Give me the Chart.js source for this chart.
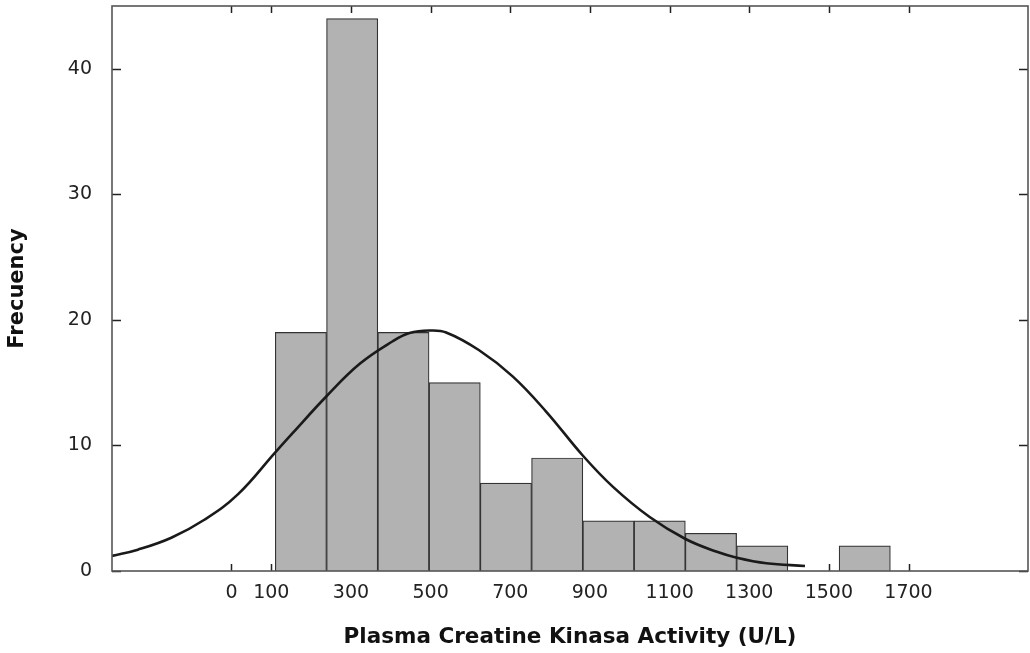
<!DOCTYPE html>
<html>
<head>
<meta charset="utf-8">
<script src="https://cdn.jsdelivr.net/npm/chart.js@4"></script>
<style>
html, body { margin: 0; padding: 0; background: #fff; }
#wrap { width: 1030px; height: 653px; }
</style>
</head>
<body>
<div id="wrap"><canvas id="histogram"></canvas></div>
<script>
// histogram bins (U/L) and counts
const binStart = 110
const binWidth = 128.7
const counts = [19, 44, 19, 15, 7, 9, 4, 4, 3, 2, 0, 2]

// fitted normal curve, traced point by point
const curveX = [-300, -235, -151, -67, 16, 110, 154, 238, 322, 405, 447, 497, 539, 621, 706, 790, 882, 958, 1050, 1140, 1217, 1269, 1343, 1440]
const curveY = [1.2, 1.7, 2.65, 4.1, 6.1, 9.45, 11.0, 13.9, 16.5, 18.3, 18.95, 19.15, 19.0, 17.6, 15.5, 12.7, 9.2, 6.7, 4.3, 2.55, 1.55, 1.06, 0.62, 0.4]

const xTicks = [0, 100, 300, 500, 700, 900, 1100, 1300, 1500, 1700]
const yTicks = [0, 10, 20, 30, 40]

Chart.defaults.font.family = "'DejaVu Sans', 'Liberation Sans', sans-serif"
Chart.defaults.color = '#222'

// tick marks pointing inward on all four sides, plus the frame
const innerTicks = {
    id: 'innerTicks',
    beforeDatasetsDraw(chart) {
        const {ctx, chartArea: a, scales: {x, y}} = chart
        ctx.save()
        ctx.strokeStyle = '#222'
        ctx.lineWidth = 1.5
        ctx.beginPath()
        xTicks.forEach(v => {
            const px = Math.round(x.getPixelForValue(v)) + 0.5
            ctx.moveTo(px, a.bottom); ctx.lineTo(px, a.bottom - 7)
            ctx.moveTo(px, a.top); ctx.lineTo(px, a.top + 7)
        })
        yTicks.forEach(v => {
            const py = Math.round(y.getPixelForValue(v)) + 0.5
            ctx.moveTo(a.left, py); ctx.lineTo(a.left + 9, py)
            ctx.moveTo(a.right, py); ctx.lineTo(a.right - 9, py)
        })
        ctx.stroke()
        ctx.restore()
    },
    afterDatasetsDraw(chart) {
        const {ctx, chartArea: a} = chart
        ctx.save()
        ctx.strokeStyle = '#555'
        ctx.lineWidth = 1.6
        ctx.strokeRect(a.left, a.top, a.right - a.left, a.bottom - a.top)
        ctx.restore()
    }
}

const data = {
    datasets: [{
        type: 'line',
        data: curveX.map((v, i) => ({x: v, y: curveY[i]})),
        borderColor: '#1a1a1a',
        borderWidth: 2.6,
        pointRadius: 0,
        tension: 0.4,
        order: 0
    },
    {
        type: 'bar',
        data: counts.map((c, i) => ({x: binStart + (i + 0.5) * binWidth, y: c})),
        backgroundColor: '#b2b2b2',
        borderColor: '#333',
        borderWidth: 1.2,
        barThickness: 'flex',
        barPercentage: 1,
        categoryPercentage: 1,
        order: 1
    }]
}

const options = {
    animation: false,
    responsive: true,
    maintainAspectRatio: false,
    layout: { padding: { top: 6, right: 2, left: 0, bottom: 0 } },
    plugins: {
        legend: { display: false },
        tooltip: { enabled: false }
    },
    scales: {
        x: {
            type: 'linear',
            min: -300,
            max: 2000,
            offset: false,
            grid: { display: false, drawTicks: false },
            border: { display: false },
            afterBuildTicks: s => { s.ticks = xTicks.map(v => ({value: v})) },
            afterFit: s => {
                s.height = 82
                s.paddingLeft = 0
                s.paddingRight = 0
            },
            ticks: {
                font: { size: 19 },
                color: '#222',
                padding: 11,
                maxRotation: 0,
                autoSkip: false,
                callback: v => String(v)
            },
            title: {
                display: true,
                text: 'Plasma Creatine Kinasa Activity (U/L)',
                font: { size: 21.5, weight: 'bold' },
                color: '#111',
                padding: { top: 0, bottom: 3 }
            }
        },
        y: {
            min: 0,
            max: 45,
            grid: { display: false, drawTicks: false },
            border: { display: false },
            afterBuildTicks: s => { s.ticks = yTicks.map(v => ({value: v})) },
            afterFit: s => {
                s.width = 112
                s.paddingTop = 0
                s.paddingBottom = 0
            },
            ticks: {
                font: { size: 19 },
                color: '#222',
                padding: 20,
                callback: v => String(v)
            },
            title: {
                display: true,
                text: 'Frecuency',
                font: { size: 21, weight: 'bold' },
                color: '#111',
                padding: { top: 5, bottom: 0 }
            }
        }
    }
}

new Chart('histogram', {type: 'bar', data, options, plugins: [innerTicks]})
</script>
</body>
</html>
